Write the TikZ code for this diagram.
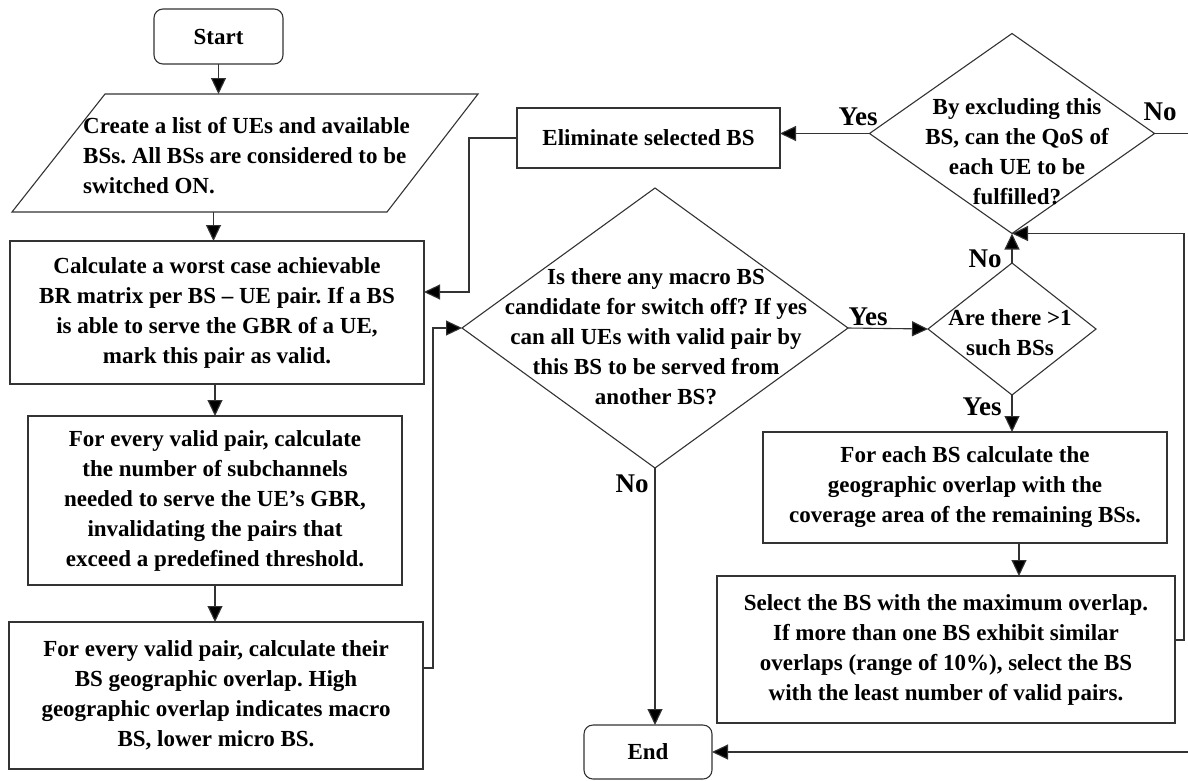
\documentclass[tikz,border=0pt]{standalone}
\usepackage{fontspec}
\setmainfont{Liberation Serif}
\usetikzlibrary{arrows.meta,shapes.geometric}
\frenchspacing
\begin{document}
\begin{tikzpicture}[x=1pt,y=-1pt,
  every node/.style={font=\bfseries\fontsize{23}{30}\selectfont, text=black},
  box/.style={draw=black!80, line width=1.1pt, rectangle, inner sep=0pt, outer sep=0pt, align=center},
  term/.style={box, rounded corners=9pt},
  decision/.style={draw=black!80, line width=1.1pt, diamond, inner sep=0pt, outer sep=0pt},
  qtext/.style={inner sep=0pt, align=center},
  lbl/.style={inner sep=0pt, font=\bfseries\fontsize{27}{30}\selectfont},
  arr/.style={draw=black!80, line width=1.1pt, -{Triangle[length=16pt,width=15pt,fill=black]}},
  wire/.style={draw=black!80, line width=1.1pt}
]
\useasboundingbox (0,0) rectangle (1188,780);
\clip (0,0) rectangle (1188,780);

% ---------- left column ----------
\node[term, minimum width=129pt, minimum height=55pt] (start) at (218.5,36.5) {Start};

% input parallelogram
\draw[wire] (105,94) -- (478,94) -- (387,212) -- (12,212) -- cycle;
\coordinate (listtop) at (218.5,94);
\coordinate (listbot) at (213.5,212);
\node[inner sep=0pt, anchor=west, align=left] (listtext) at (83,156)
  {Create a list of UEs and available\\BSs. All BSs are considered to be\\switched ON.};

\node[box, minimum width=414pt, minimum height=143pt] (calc) at (217,312.5)
  {Calculate a worst case achievable\\BR matrix per BS -- UE pair. If a BS\\is able to serve the GBR of a UE,\\mark this pair as valid.};

\node[box, minimum width=374pt, minimum height=169pt] (sub) at (215,500.5)
  {For every valid pair, calculate\\the number of subchannels\\needed to serve the UE's GBR,\\invalidating the pairs that\\exceed a predefined threshold.};

\node[box, minimum width=414pt, minimum height=147pt] (geo) at (216,695.5)
  {For every valid pair, calculate their\\BS geographic overlap. High\\geographic overlap indicates macro\\BS, lower micro BS.};

% ---------- middle ----------
\node[box, minimum width=263pt, minimum height=60pt] (elim) at (648.5,138) {Eliminate selected BS};

\node[decision, minimum width=386pt, minimum height=280pt] (q1) at (655,328) {};
\node[qtext] (q1text) at (656,337)
  {Is there any macro BS\\candidate for switch off? If yes\\can all UEs with valid pair by\\this BS to be served from\\another BS?};

\node[term, minimum width=128pt, minimum height=54pt] (end) at (648,752) {End};

% ---------- right column ----------
\node[decision, minimum width=285pt, minimum height=200pt] (q3) at (1012,133.5) {};
\node[qtext] (q3text) at (1017,152)
  {By excluding this\\BS, can the QoS of\\each UE to be\\fulfilled?};

\node[decision, minimum width=168pt, minimum height=132pt] (q2) at (1012,329) {};
\node[qtext] (q2text) at (1010,333) {Are there >1\\such BSs};

\node[box, minimum width=404pt, minimum height=111pt] (each) at (965,487.5)
  {For each BS calculate the\\geographic overlap with the\\coverage area of the remaining BSs.};

\node[box, minimum width=458pt, minimum height=147pt] (sel) at (946,649.5)
  {Select the BS with the maximum overlap.\\If more than one BS exhibit similar\\overlaps (range of 10\%), select the BS\\with the least number of valid pairs.};

% ---------- connectors ----------
\draw[arr] (start.south) -- (listtop);
\draw[arr] (listbot) -- (listbot |- calc.north);
\draw[arr] (sub.north |- calc.south) -- (sub.north);
\draw[arr] (sub.south) -- (sub.south |- geo.north);
\draw[arr] ([yshift=27.5pt]geo.east) -- ++(10,0) |- (q1.west);
\draw[arr] (elim.west) -- ++(-48,0) |- ([yshift=20.5pt]calc.east);
\draw[arr] (q3.west) -- (q3.west -| elim.east);
\draw[arr] (q3.east) -- ++(60,0) |- (end.east);
\draw[arr] (q1.east) -- (q2.west);
\draw[arr] (q1.south) -- (q1.south |- end.north);
\draw[arr] (q2.north) -- (q3.south);
\draw[arr] (q2.south) -- (q2.south |- each.north);
\draw[arr] ([xshift=54pt]each.south) -- ([xshift=54pt]each.south |- sel.north);
\draw[arr] ([yshift=9.5pt]sel.east) -- ++(9,0) |- (q3.south);

% ---------- branch labels ----------
\node[lbl] (yes1) at (858,117) {Yes};
\node[lbl] (no1) at (1160,112) {No};
\node[lbl] (no2) at (985,259) {No};
\node[lbl] (yes2) at (868,317) {Yes};
\node[lbl] (yes3) at (982,407) {Yes};
\node[lbl] (no3) at (632,484) {No};
\end{tikzpicture}
\end{document}
